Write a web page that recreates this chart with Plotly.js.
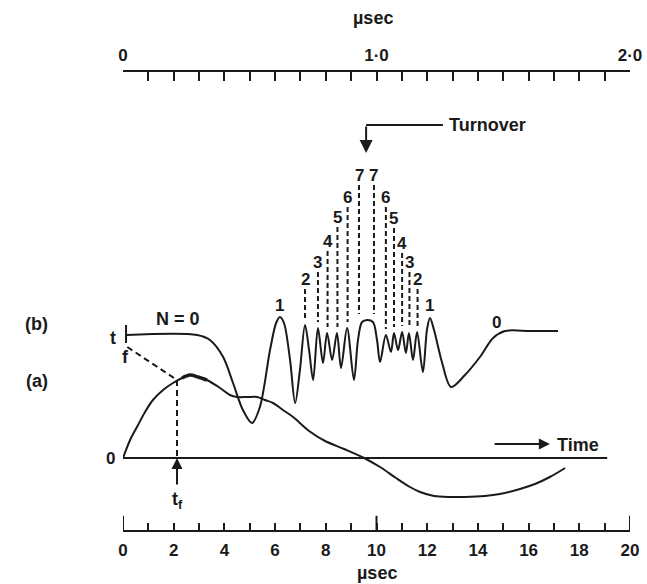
<!DOCTYPE html>
<html>
<head>
<meta charset="utf-8">
<script src="https://cdn.plot.ly/plotly-3.0.1.min.js"></script>
<style>html,body{margin:0;padding:0;background:#fff;}#chart{width:647px;height:584px;}</style>
</head>
<body>
<div id="chart"></div>
<script>
// ---- data (time in µsec, amplitude in arbitrary units) ----
const curveBT = [0.12,2.92,3.43,3.95,4.34,4.73,5.09,5.40,5.80,6.04,6.19,6.35,6.59,6.79,6.98,7.18,7.34,7.50,7.69,7.89,8.05,8.25,8.44,8.60,8.84,9.11,9.27,9.43,9.63,9.86,10.02,10.14,10.37,10.57,10.69,10.85,11.01,11.16,11.28,11.44,11.60,11.83,11.99,12.11,12.27,12.58,12.94,13.49,14.08,14.60,15.07,16.06,17.16];
const curveBY = [12.3,12.3,11.8,10.1,7.5,4.8,3.5,5.1,10.8,13.5,14.1,13.5,9.8,5.5,8.8,13.3,10.8,7.8,13.0,9.5,12.5,9.8,12.5,9.0,13.0,7.8,11.8,13.6,13.8,13.6,11.8,9.6,12.3,10.6,12.5,10.8,12.6,10.5,12.5,9.8,12.6,8.6,12.8,14.0,12.8,9.6,7.1,8.3,10.1,12.0,12.7,12.7,12.7];

const curveAT = [0,0.28,0.55,0.87,1.18,1.58,1.97,2.33,2.64,2.96,3.31,3.83,4.22,4.50,4.89,5.29,5.60,5.92,6.31,6.71,7.34,7.97,8.72,9.51,10.14,10.77,11.32,11.72,12.27,12.90,13.49,14.28,14.87,15.66,16.25,16.84,17.44];
const curveAY = [0,1.8,3.1,4.6,5.8,6.8,7.5,8.0,8.3,8.1,7.8,7.0,6.3,6.1,6.1,6.1,5.8,5.5,4.8,4.1,2.7,1.7,0.9,0,-0.9,-2.0,-2.9,-3.4,-3.8,-3.9,-3.9,-3.8,-3.6,-3.1,-2.6,-1.9,-1.0];

const baselineT = [0, 19.1];
const tfBarT = 0.12, tfBarY = [13.3, 11.5];
const tfT = 2.13, tfY = 7.8;

const markerN = ['2','3','4','5','6','7','7','6','5','4','3','2'];
const markerT = [7.18,7.69,8.07,8.46,8.86,9.31,9.90,10.37,10.69,11.01,11.30,11.62];
const markerLabelY = [17.9,19.6,21.7,24.1,26.1,28.3,28.3,26.1,24.0,21.5,19.6,17.9];
const markerBottom = [13.9,13.6,13.1,13.1,13.6,14.4,14.4,12.9,13.1,13.2,13.1,13.2];
const onePeakT = [6.19, 12.11], onePeakY = 15.3;

const turnoverT = 9.59, turnoverTopY = 33.3, turnoverTipY = 30.5, turnoverEndT = 12.62;

const bottomTickVals = Array.from({length:21},(_, i) => i);
const bottomTickText = ['0','','2','','4','','6','','8','','10','','12','','14','','16','','18','','20'];
const topTickVals = Array.from({length:21},(_, i) => i/10);
const topTickText = ['0','','','','','','','','','','1·0','','','','','','','','','','2·0'];
const majorTicks = [0, 10, 20];

// ---- drawing ----
const ink = '#1a1a1a';
const F = {family:'Liberation Sans, Arial, sans-serif', size:18, color:ink, weight:'bold'};
const FD = Object.assign({}, F, {size:17});
const traces = [];
const line = (x, y, extra) => Object.assign({x, y, type:'scatter', mode:'lines', hoverinfo:'skip',
  line:{color:ink, width:2}}, extra||{});

traces.push(line(curveBT, curveBY, {line:{color:ink, width:2, shape:'spline', smoothing:0.9}}));
traces.push(line(curveAT, curveAY, {line:{color:ink, width:2, shape:'spline', smoothing:0.9}}));
traces.push(line(curveAT.slice(7, 11), curveAY.slice(7, 11), {line:{color:ink, width:3.5, shape:'spline', smoothing:0.9}}));
traces.push(line(baselineT, [0, 0]));
traces.push(line([tfBarT, tfBarT], tfBarY));
traces.push(line([tfBarT + 0.05, tfT], [11.1, tfY], {line:{color:ink, width:2, dash:'6px,4px'}}));
traces.push(line([tfT, tfT], [tfY, 0], {line:{color:ink, width:2, dash:'6px,4px'}}));
traces.push(line([turnoverT, turnoverEndT], [turnoverTopY, turnoverTopY]));
markerT.forEach((t, i) => {
  traces.push(line([t, t], [markerLabelY[i] - 1.0, markerBottom[i]], {line:{color:ink, width:2, dash:'5px,3px'}}));
});
// invisible trace to carry the top axis
traces.push({x:[0, 2], y:[0, 0], xaxis:'x2', yaxis:'y', type:'scatter', mode:'markers',
  marker:{opacity:0}, hoverinfo:'skip'});

const ann = [];
const txt = (x, y, text, o) => ann.push(Object.assign({x, y, text, showarrow:false, font:F,
  xref:'x', yref:'y', xanchor:'center', yanchor:'middle'}, o||{}));
markerT.forEach((t, i) => txt(t, markerLabelY[i], markerN[i], {font:FD}));
onePeakT.forEach(t => txt(t, onePeakY, '1', {font:FD}));
txt(2.17, 13.9, 'N = 0');
txt(14.75, 13.6, '0', {font:FD});
txt(-0.170, 13.4, '(b)', {xref:'paper'});
txt(-0.170, 7.7, '(a)', {xref:'paper'});
txt(-0.024, 0, '0', {xref:'paper', font:FD});
txt(-0.020, 12.0, 't', {xref:'paper'});
txt(0.08, 10.1, 'f');
txt(tfT, -2.9, 't<sub>f</sub>', {yanchor:'top'});
txt(17.04, 1.3, 'Time', {xanchor:'left'});
txt(12.78, 33.3, 'Turnover', {xanchor:'left'});
txt(0.493, 1.118, 'µsec', {xref:'paper', yref:'paper'});
txt(0.5, -0.094, 'µsec', {xref:'paper', yref:'paper'});
// arrows
const arrow = (x, y, ax, ay, size) => ann.push({x, y, ax, ay, xref:'x', yref:'y', axref:'x', ayref:'y',
  text:'', showarrow:true, arrowhead:2, arrowsize:size||1.1, arrowwidth:2, arrowcolor:ink});
arrow(16.84, 1.4, 14.6, 1.4);
arrow(tfT, 0, tfT, -2.8);
arrow(turnoverT, turnoverTipY, turnoverT, turnoverTopY, 1.3);

const shapes = majorTicks.map(t => ({type:'line', xref:'x', yref:'paper', x0:t, x1:t, y0:0, y1:0.031,
  line:{color:ink, width:2}}));

const axStyle = {showline:true, linecolor:ink, linewidth:2, ticks:'inside', tickcolor:ink, tickwidth:2,
  showgrid:false, zeroline:false, tickfont:FD, fixedrange:true};
const layout = {
  width:647, height:584, margin:{l:123, r:17, t:72, b:54},
  paper_bgcolor:'#fff', plot_bgcolor:'#fff', showlegend:false,
  xaxis:Object.assign({}, axStyle, {range:[0,20], tickmode:'array', tickvals:bottomTickVals,
    ticktext:bottomTickText, ticklen:7, ticklabelstandoff:4}),
  xaxis2:Object.assign({}, axStyle, {range:[0,2], overlaying:'x', side:'top', anchor:'y', tickmode:'array',
    tickvals:topTickVals, ticktext:topTickText, ticklen:9, ticklabelstandoff:2}),
  yaxis:{range:[-7.2,38.6], visible:false, fixedrange:true},
  annotations:ann, shapes
};
Plotly.newPlot('chart', traces, layout, {staticPlot:true, displayModeBar:false});
</script>
</body>
</html>
